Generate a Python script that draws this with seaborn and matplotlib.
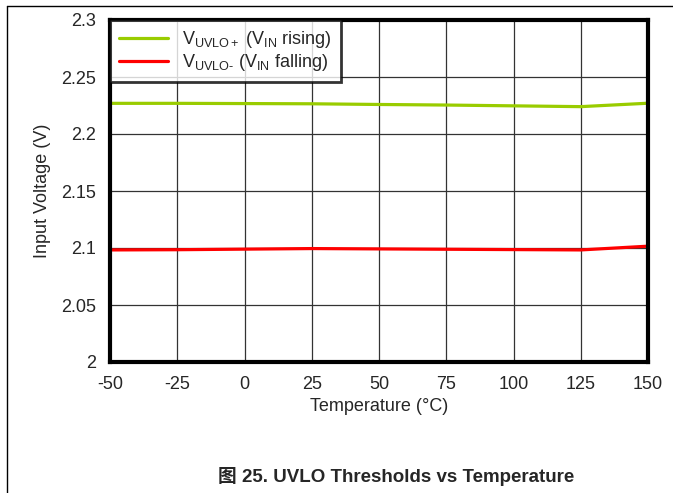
import matplotlib
matplotlib.use("Agg")
import matplotlib.pyplot as plt
from matplotlib.lines import Line2D
import pandas as pd
import seaborn as sns

sns.set_style("white")
plt.rcParams["font.family"] = ["Liberation Sans", "Noto Sans CJK SC", "DejaVu Sans"]
plt.rcParams["mathtext.fontset"] = "custom"
plt.rcParams["mathtext.rm"] = "Liberation Sans"
plt.rcParams["mathtext.it"] = "Liberation Sans"

temps = [-50, -25, 0, 25, 50, 75, 100, 125, 150]
uvlo_rise = [2.2269, 2.2269, 2.2267, 2.2265, 2.2259, 2.2254, 2.2247, 2.2240, 2.2270]
uvlo_fall = [2.0983, 2.0985, 2.0990, 2.0995, 2.0992, 2.0989, 2.0986, 2.0983, 2.1016]
labels = ["V$_{\\mathrm{UVLO+}}$ (V$_{\\mathrm{IN}}$ rising)",
          "V$_{\\mathrm{UVLO\u2010}}$ (V$_{\\mathrm{IN}}$ falling)"]
xticklabels = ["-50", "-25", "0", "25", "50", "75", "100", "125", "150"]
yticks = [2, 2.05, 2.1, 2.15, 2.2, 2.25, 2.3]
yticklabels = ["2", "2.05", "2.1", "2.15", "2.2", "2.25", "2.3"]
colors = ["#99CC00", "#FF0000"]

df = pd.DataFrame({
    "temp": temps * 2,
    "volt": uvlo_rise + uvlo_fall,
    "series": [labels[0]] * len(temps) + [labels[1]] * len(temps),
})

fig = plt.figure(figsize=(6.73, 4.93), dpi=100)
ax = fig.add_axes([110 / 673, 1 - 362 / 493, (648 - 110) / 673, (362 - 20) / 493])
sns.lineplot(data=df, x="temp", y="volt", hue="series", palette=colors,
             linewidth=2.3, ax=ax, zorder=3)

ax.set_xlim(-50, 150)
ax.set_ylim(2, 2.3)
ax.set_xticks(temps)
ax.set_xticklabels(xticklabels)
ax.set_yticks(yticks)
ax.set_yticklabels(yticklabels)
ax.grid(True, color="#333333", linewidth=0.9)
for s in ax.spines.values():
    s.set_linewidth(3)
    s.set_color("black")
    s.set_zorder(5)
ax.tick_params(labelsize=13, length=0)
ax.tick_params(axis="x", pad=10)
ax.tick_params(axis="y", pad=10)
ax.set_xlabel("Temperature (°C)", fontsize=13, labelpad=4)
ax.set_ylabel("Input Voltage (V)", fontsize=13, labelpad=7)

leg = ax.legend(loc="upper left", borderaxespad=0, fontsize=13, frameon=True,
                fancybox=False, handlelength=2.7, handletextpad=0.8,
                labelspacing=0.1, borderpad=0.5)
leg.get_frame().set_edgecolor("black")
leg.get_frame().set_linewidth(2)
leg.set_zorder(6)

# figure frame lines
fig.add_artist(Line2D([7 / 673, 7 / 673], [0, 1 - 6 / 493], color="black", linewidth=1))
fig.add_artist(Line2D([7 / 673, 1], [1 - 6 / 493, 1 - 6 / 493], color="black", linewidth=1))

fig.text(396 / 673, 1 - 476 / 493, "图 25. UVLO Thresholds vs Temperature",
         ha="center", va="center", fontsize=13.5, fontweight="bold")

fig.savefig("out.png", dpi=100)
